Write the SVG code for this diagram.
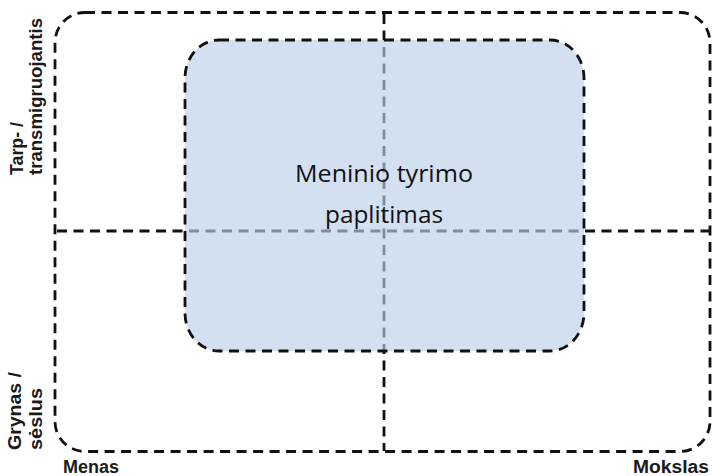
<svg xmlns="http://www.w3.org/2000/svg" width="712" height="476" viewBox="0 0 712 476">
<style>
.dash{fill:none;stroke:#111;stroke-width:2.8;stroke-dasharray:10 6.5}
.lbl{font-family:"Liberation Sans",Arial,sans-serif;font-weight:bold;font-size:19px;fill:#1a1a1a}
.bot{font-family:"Liberation Sans",Arial,sans-serif;font-weight:bold;font-size:18px;fill:#1a1a1a}
.main{font-family:"Open Sans","Noto Sans",sans-serif;font-size:23px;fill:#111;text-anchor:middle}
</style>
<rect width="712" height="476" fill="#fff"/>
<g id="frame">
<rect class="dash" x="55" y="12.5" width="655" height="439" rx="30" ry="30"/>
</g>
<g id="connectors">
<line class="dash" x1="57" y1="231" x2="712" y2="231"/>
<line class="dash" x1="384" y1="14" x2="384" y2="451"/>
</g>
<g id="node-spread">
<rect x="185" y="40" width="399" height="311" rx="34" ry="38" fill="#bccfe9" fill-opacity="0.65"/>
<rect class="dash" x="185" y="40" width="399" height="311" rx="34" ry="38"/>
<text class="main" x="384" y="182" textLength="178" lengthAdjust="spacingAndGlyphs">Meninio tyrimo</text>
<text class="main" x="384" y="223" textLength="118" lengthAdjust="spacingAndGlyphs">paplitimas</text>
</g>
<g id="axis-labels">
<text class="lbl" transform="translate(23,175) rotate(-90)" textLength="53" lengthAdjust="spacingAndGlyphs">Tarp- /</text>
<text class="lbl" transform="translate(42,175) rotate(-90)" textLength="157" lengthAdjust="spacingAndGlyphs">transmigruojantis</text>
<text class="lbl" transform="translate(21,450) rotate(-90)" textLength="78" lengthAdjust="spacingAndGlyphs">Grynas /</text>
<text class="lbl" transform="translate(42,450) rotate(-90)" textLength="62" lengthAdjust="spacingAndGlyphs">sėslus</text>
<text class="bot" x="63" y="473" textLength="56" lengthAdjust="spacingAndGlyphs">Menas</text>
<text class="bot" x="633" y="473" textLength="76" lengthAdjust="spacingAndGlyphs">Mokslas</text>
</g>
</svg>
